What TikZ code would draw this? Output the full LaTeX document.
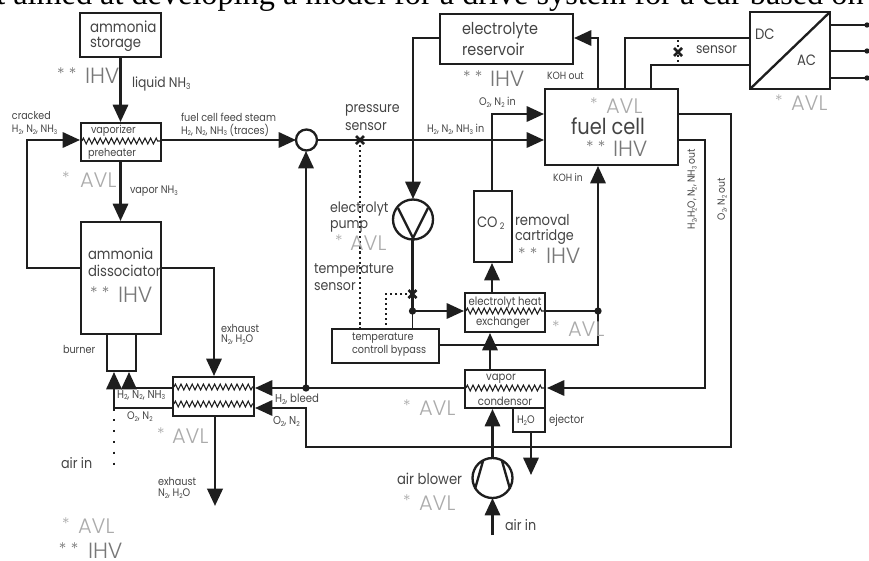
\documentclass[tikz,border=0pt]{standalone}
\usepackage{fontspec}
\setmainfont{Poppins}
\newfontfamily\lightf{Poppins Light}
\newfontfamily\serifhead{Liberation Serif}
\usetikzlibrary{arrows.meta,decorations.pathmorphing,calc}
\definecolor{ink}{HTML}{1E1E1E}
\definecolor{txt}{HTML}{444444}
\definecolor{ihvc}{HTML}{777777}
\definecolor{avlc}{HTML}{ABABAB}
\newcounter{lbc}
\newcommand\lbx[5][]{\stepcounter{lbc}\pgfmathsetmacro\fsz{#4*0.75}\node[lab,name=lb\thelbc,#1] at (#2,#3) {\scalebox{0.88}[1]{\fontsize{\fsz}{\fsz}\selectfont #5}};}
\newcommand\lgt[5][]{\stepcounter{lbc}\pgfmathsetmacro\fsz{#4*0.75}\node[lab,name=lb\thelbc,#1] at (#2,#3) {\lightf\fontsize{\fsz}{\fsz}\selectfont #5};}
\newcommand\lo[1]{\raisebox{-0.3ex}{\scalebox{0.6}{#1}}}
\newcommand\avl[3]{\lgt[text=avlc]{#1}{#3-1.5}{16}{*}\lgt[text=avlc]{#2}{#3+1}{21}{AVL}}
\newcommand\ihv[3]{\lgt[text=ihvc]{#1}{#3-1.5}{16}{* *}\lgt[text=ihvc]{#2}{#3+1}{22}{IHV}}
\newcommand\bx[6][]{\node[boxx,minimum width={(#5-#3)*0.75pt},minimum height={(#6-#4)*0.75pt},#1] (#2) at ({(#3+#5)/2},{(#4+#6)/2}) {};}
\tikzset{
  lab/.style={anchor=west,inner sep=0pt,outer sep=0pt,text=txt},
  boxx/.style={draw=ink,line width=1.75pt,fill=none,inner sep=0pt,outer sep=0pt},
  pipe/.style={draw=ink,line width=1.75pt},
  thinp/.style={draw=ink,line width=0.9pt},
  arr/.style={pipe,-{Triangle[length=13pt,width=11.5pt]}},
  zz/.style={draw=ink,line width=0.8pt,decorate,decoration={zigzag,segment length=4.2pt,amplitude=2.2pt}},
  dots/.style={draw=ink,line width=1.9pt,line cap=butt,dash pattern=on 1.9pt off 6.3pt},
  dotsf/.style={draw=ink,line width=1.3pt,dash pattern=on 1.6pt off 2.2pt},
  jn/.style={circle,fill=ink,inner sep=0pt,minimum size=5.5pt},
  xm/.style={draw=ink,line width=1.9pt}
}
\begin{document}
\begin{tikzpicture}[x=0.75pt,y=-0.75pt]
\useasboundingbox (0,0) rectangle (869,561);
\begin{scope}
\clip (0,0) rectangle (869,561);
\node[anchor=base west,inner sep=0pt,text=black] (head) at (-4,4) {\serifhead\fontsize{24.2}{24.2}\selectfont t aimed at developing a model for a drive system for a car based on};
\end{scope}
% boxes
\bx{stor}{80}{13}{161}{57}
\bx{vap}{81}{123}{161}{161}
\bx{diss}{81}{222}{161}{334}
\bx{burn}{107}{334}{136}{371}
\bx{hxa}{173}{377}{254}{416}
\bx{res}{440}{14}{573}{64}
\bx{fc}{545}{89}{678}{165}
\bx{dcac}{750}{12}{830}{89}
\bx{cart}{474}{191}{512}{262}
\bx{hxb}{465}{293}{545}{332}
\bx{tcb}{332}{329}{439}{363}
\bx{cond}{465}{370}{545}{408}
\bx{wat}{513}{408}{545}{432}
\node[circle,draw=ink,line width=1.75pt,minimum size={21*0.75pt},inner sep=0pt,outer sep=0pt] (mix) at (306.5,140) {};
\node[circle,draw=ink,line width=1.75pt,minimum size={40*0.75pt},inner sep=0pt,outer sep=0pt] (pump) at (413,219.5) {};
\node[circle,draw=ink,line width=1.75pt,minimum size={40*0.75pt},inner sep=0pt,outer sep=0pt] (blow) at (492.5,478) {};
% named points
\coordinate (a1) at (120.5,57); \coordinate (a2) at (120.5,122);
\coordinate (b1) at (80,140); \coordinate (b2) at (27,140); \coordinate (b3) at (27,268); \coordinate (b4) at (81,268);
\coordinate (c1) at (161,140); \coordinate (c2) at (544,140); \coordinate (c3) at (317,140);
\coordinate (d1) at (120.5,161); \coordinate (d2) at (120.5,221);
\coordinate (e1) at (161,268); \coordinate (e2) at (214,268); \coordinate (e3) at (214,376);
\coordinate (f1) at (215,416); \coordinate (f2) at (215,506);
\coordinate (g1) at (173,388); \coordinate (g2) at (129,388); \coordinate (g3) at (129,372);
\coordinate (h1) at (173,408); \coordinate (h2) at (114,408); \coordinate (h3) at (114,372); \coordinate (h4) at (114,472);
\coordinate (i1) at (465,388); \coordinate (i2) at (255,388);
\coordinate (j0) at (306,388); \coordinate (j2) at (306,151);
\coordinate (k1) at (678,114); \coordinate (k2) at (731,114); \coordinate (k3) at (731,447); \coordinate (k4) at (306,447); \coordinate (k5) at (306,408); \coordinate (k6) at (255,408);
\coordinate (l1) at (678,140); \coordinate (l2) at (705,140); \coordinate (l3) at (705,388); \coordinate (l4) at (547,388);
\coordinate (m1) at (440,38); \coordinate (m2) at (413,38); \coordinate (m3) at (413,199);
\coordinate (n1) at (598,89); \coordinate (n2) at (598,38); \coordinate (n3) at (574,38);
\coordinate (o1) at (492,191); \coordinate (o2) at (492,114); \coordinate (o3) at (544,114);
\coordinate (p1) at (492,293); \coordinate (p2) at (492,263);
\coordinate (q0) at (412.5,311); \coordinate (q1) at (412.5,239.5); \coordinate (q2) at (464,311); \coordinate (q3) at (412.5,329);
\coordinate (r0) at (598,311); \coordinate (r1) at (545,311); \coordinate (r2) at (598,166);
\coordinate (s1) at (439,345); \coordinate (s2) at (598,345);
\coordinate (t1) at (490,370); \coordinate (t2) at (490,333);
\coordinate (u1) at (492.5,458); \coordinate (u2) at (492.5,409);
\coordinate (v1) at (531,432); \coordinate (v2) at (531,475);
\coordinate (w1) at (492.5,535); \coordinate (w2) at (492.5,498);
\coordinate (y1) at (625,89); \coordinate (y2) at (625,38); \coordinate (y3) at (750,38);
\coordinate (z1) at (651,89); \coordinate (z2) at (651,65); \coordinate (z3) at (750,65);
\coordinate (sp) at (360,140); \coordinate (sp2) at (360,329);
\coordinate (st) at (412.5,294); \coordinate (st2) at (386,294); \coordinate (st3) at (386,329);
\coordinate (se) at (678,52); \coordinate (se1) at (678,40); \coordinate (se2) at (678,63);
\coordinate (o1a) at (830,25); \coordinate (o1b) at (867,25);
\coordinate (o2a) at (830,51); \coordinate (o2b) at (867,51);
\coordinate (o3a) at (830,78); \coordinate (o3b) at (867,78);
% connectors
\draw[arr] (a1) -- (a2);
\draw[arr] (b4) -- (b3) -- (b2) -- (b1);
\draw[arr] (c1) -- (mix.west);
\draw[arr] (c3) -- (c2);
\draw[arr] (d1) -- (d2);
\draw[arr] (e1) -- (e2) -- (e3);
\draw[arr,line width=2.2pt] (f1) -- (f2);
\draw[arr] (g1) -- (g2) -- (g3);
\draw[arr] (h1) -- (h2) -- (h3);
\draw[dots] (h2) -- (h4);
\draw[arr] (i1) -- (i2);
\draw[arr] (j0) -- (j2);
\draw[arr] (k1) -- (k2) -- (k3) -- (k4) -- (k5) -- (k6);
\draw[arr] (l1) -- (l2) -- (l3) -- (l4);
\draw[arr] (m1) -- (m2) -- (m3);
\draw[arr] (n1) -- (n2) -- (n3);
\draw[arr] (o1) -- (o2) -- (o3);
\draw[arr] (p1) -- (p2);
\draw[pipe] (q1) -- (q0);
\draw[arr] (q0) -- (q2);
\draw[thinp] (q0) -- (q3);
\draw[arr] (r0) -- (r2);
\draw[pipe] (r1) -- (r0);
\draw[thinp] (s1) -- (s2) -- (r0);
\draw[arr] (t1) -- (t2);
\draw[arr] (u1) -- (u2);
\draw[arr] (v1) -- (v2);
\draw[arr] (w1) -- (w2);
\draw[pipe] (y1) -- (y2) -- (y3);
\draw[pipe] (z1) -- (z2) -- (z3);
\draw[pipe] (o1a) -- (o1b); \draw[pipe] (o2a) -- (o2b); \draw[pipe] (o3a) -- (o3b);
\node[jn,minimum size=4pt] (e1n) at (o1b) {}; \node[jn,minimum size=4pt] (e2n) at (o2b) {}; \node[jn,minimum size=4pt] (e3n) at (o3b) {};
\node[jn] (jA) at (j0) {}; \node[jn] (jB) at (q0) {}; \node[jn] (jC) at (r0) {};
% dotted sensor lines
\draw[dotsf] (sp) -- (sp2);
\draw[dotsf] (st) -- (st2) -- (st3);
\draw[dotsf,line width=1pt] (se1) -- (se2);
% sensor crosses
\foreach \p in {sp,st,se}{\draw[xm] ($(\p)+(-4,-4)$) -- ($(\p)+(4,4)$) ($(\p)+(-4,4)$) -- ($(\p)+(4,-4)$);}
% zigzags
\coordinate (zv1) at (82,141); \coordinate (zv2) at (160,141);
\draw[zz] (zv1) -- (zv2);
\coordinate (zh1) at (174,387); \coordinate (zh2) at (253,387);
\draw[zz] (zh1) -- (zh2);
\coordinate (zh3) at (174,404); \coordinate (zh4) at (253,404);
\draw[zz] (zh3) -- (zh4);
\coordinate (zb1) at (466,311); \coordinate (zb2) at (544,311);
\draw[zz] (zb1) -- (zb2);
\coordinate (zc1) at (466,388); \coordinate (zc2) at (544,388);
\draw[zz] (zc1) -- (zc2);
% pump and blower inner lines, DC/AC diagonal
\draw[pipe] (398,208) -- (413,238) -- (428,208);
\draw[pipe] (483,461) -- (475,489) (502,461) -- (510,489);
\draw[pipe] (dcac.south west) -- (dcac.north east);
% labels
\lbx{90}{27}{15.3}{ammonia}\lbx{90}{44}{15}{storage}
\lbx{132}{84}{14}{liquid NH\lo{3}}
\lbx{12}{116}{10.8}{cracked}\lbx{12}{130}{10.8}{H\lo{2}, N\lo{2}, NH\lo{3}}
\lbx{91}{131}{11}{vaporizer}\lbx{88}{154}{11}{preheater}
\lbx{181}{117}{11}{fuel cell feed steam}\lbx{181}{130}{11}{H\lo{2}, N\lo{2}, NH\lo{3} (traces)}
\lbx{130}{191}{11}{vapor NH\lo{3}}
\lbx{88}{254}{15}{ammonia}\lbx{88}{271}{15}{dissociator}
\lbx{221}{328}{11}{exhaust}\lbx{221}{340}{11}{N\lo{2}, H\lo{2}O}
\lbx{63}{349}{11}{burner}
\lbx{117}{395}{11.5}{H\lo{2}, N\lo{2}, NH\lo{3}}\lbx{127}{417}{11}{O\lo{2}, N\lo{2}}
\lbx{275}{399}{11.5}{H\lo{2}, bleed}\lbx{273}{421}{11.5}{O\lo{2}, N\lo{2}}
\lbx{61}{463}{14.5}{air in}
\lbx{158}{481}{11}{exhaust}\lbx{158}{494}{11}{N\lo{2}, H\lo{2}O}
\lbx{345}{110}{14.3}{pressure}\lbx{345}{127}{14.3}{sensor}
\lbx{427}{129}{11}{H\lo{2}, N\lo{2}, NH\lo{3} in}
\lbx{479}{102}{11}{O\lo{2}, N\lo{2} in}
\lbx{462}{31}{16.4}{electrolyte}\lbx{462}{49}{16.4}{reservoir}
\lbx{547}{76}{10.5}{KOH out}\lbx{553}{178}{10.5}{KOH in}
\lbx{571}{126}{22}{fuel cell}
\lbx{330}{209}{14.3}{electrolyt}\lbx{330}{226}{14.3}{pump}
\lbx{314}{270}{14.3}{temperature}\lbx{314}{287}{14.3}{sensor}
\lbx{477}{223}{15}{CO\,\lo{2}}\lbx{515}{220}{15}{removal}\lbx{515}{237}{14.5}{cartridge}
\lbx[anchor=center]{505}{303}{11.5}{electrolyt heat}\lbx[anchor=center]{503}{323}{11.5}{exchanger}
\lbx{352}{338}{11}{temperature}\lbx{352}{351}{11}{controll bypass}
\lbx[anchor=center]{501}{379}{11.5}{vapor}\lbx[anchor=center]{505}{401}{11.5}{condensor}
\lbx{517}{421}{11}{H\lo{2}O}\lbx{549}{421}{11.5}{ejector}
\lbx{397}{479}{15}{air blower}\lbx{505}{525}{14.5}{air in}
\lbx{755}{34}{15}{DC}\lbx{797}{60}{15}{AC}
\lbx{696}{50}{14}{sensor}
\lbx[anchor=center,rotate=90]{692}{189}{10.5}{H\lo{2},H\lo{2}O, N\lo{2}, NH\lo{3} out}
\lbx[anchor=center,rotate=90]{722}{199}{10.5}{O\lo{2}, N\lo{2} out}
% AVL / IHV
\avl{62}{80}{179}
\avl{335}{350}{242}
\avl{590}{606}{105}
\avl{775}{791}{102}
\avl{157}{172}{435}
\avl{62}{78}{525}
\avl{403}{419}{407}
\avl{403}{419}{502}
\avl{552}{568}{328}
\ihv{57}{85}{75}
\ihv{463}{490}{78}
\ihv{518}{546}{255}
\ihv{586}{613}{148}
\ihv{90}{118}{294}
\ihv{59}{88}{550}
\end{tikzpicture}
\end{document}
